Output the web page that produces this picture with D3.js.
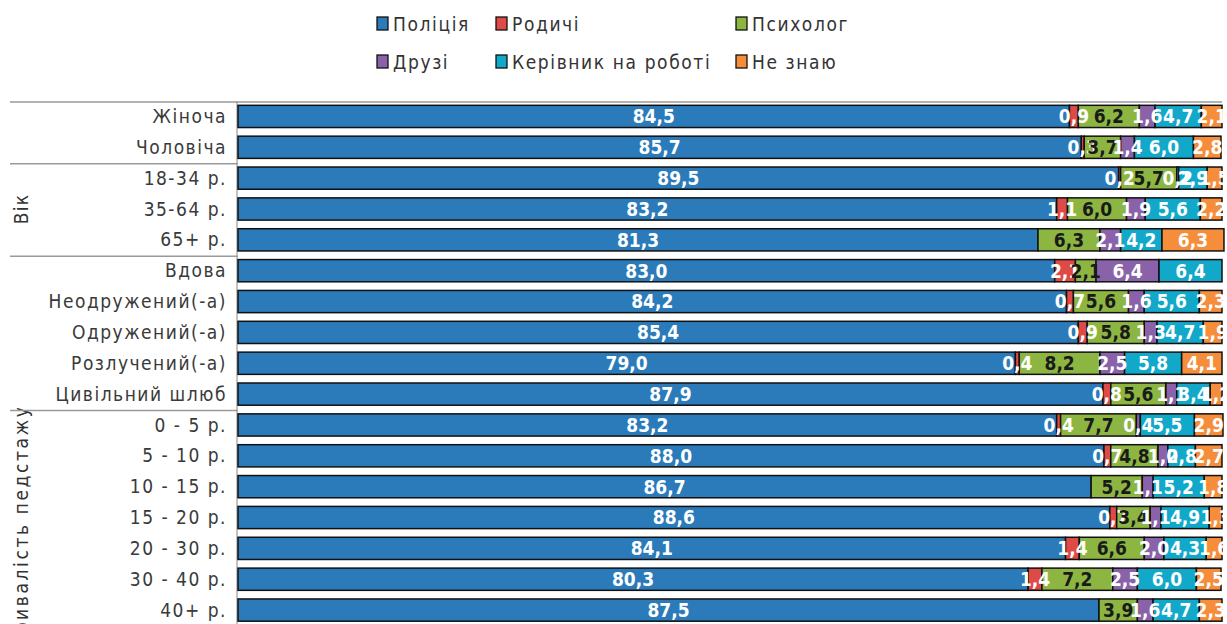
<!DOCTYPE html>
<html><head><meta charset="utf-8">
<script src="https://cdn.jsdelivr.net/npm/d3@7"></script>
<style>
html,body{margin:0;padding:0;background:#fff;overflow:hidden;}
svg{display:block;}
</style></head>
<body>
<script>
const categories = ["Жіноча","Чоловіча","18-34 р.","35-64 р.","65+ р.","Вдова","Неодружений(-а)","Одружений(-а)","Розлучений(-а)","Цивільний шлюб","0 - 5 р.","5 - 10 р.","10 - 15 р.","15 - 20 р.","20 - 30 р.","30 - 40 р.","40+ р."];
const seriesNames = ["Поліція","Родичі","Психолог","Друзі","Керівник на роботі","Не знаю"];
const police    = [84.5,85.7,89.5,83.2,81.3,83.0,84.2,85.4,79.0,87.9,83.2,88.0,86.7,88.6,84.1,80.3,87.5];
const relatives = [0.9,0.3,0.2,1.1,0,2.1,0.7,0.9,0.4,0.8,0.4,0.7,0,0.7,1.4,1.4,0];
const psych     = [6.2,3.7,5.7,6.0,6.3,2.1,5.6,5.8,8.2,5.6,7.7,4.8,5.2,3.4,6.6,7.2,3.9];
const friends   = [1.6,1.4,0.2,1.9,2.1,6.4,1.6,1.3,2.5,1.1,0.4,1.0,1.1,1.1,2.0,2.5,1.6];
const boss      = [4.7,6.0,2.9,5.6,4.2,6.4,5.6,4.7,5.8,3.4,5.5,2.8,5.2,4.9,4.3,6.0,4.7];
const dontKnow  = [2.1,2.8,1.5,2.2,6.3,0,2.3,1.9,4.1,1.2,2.9,2.7,1.8,1.3,1.6,2.5,2.3];
const groupLabels = ["","Вік","","Тривалість педстажу"];
const groupSizes  = [2,3,5,7];

const colors = ["#2b7bba","#de4a45","#8cb641","#8a62a9","#12a8c9","#f68d3a"];
const labelColors = ["#fff","#fff","#1a1a1a","#fff","#fff","#fff"];

const W = 1227, H = 624;
const FONT = "DejaVu Sans Condensed, DejaVu Sans";
const svg = d3.select("body").append("svg").attr("width",W).attr("height",H);

const seriesVals = [police,relatives,psych,friends,boss,dontKnow];
const rows = categories.map((c,i)=>{
  const o={cat:c}; seriesNames.forEach((s,j)=>o[s]=seriesVals[j][i]); return o;
});
const stack = d3.stack().keys(seriesNames)(rows);

const x = d3.scaleLinear().domain([0,100]).range([238,1222]);
const y = d3.scaleBand().domain(categories).range([101,625.5]).paddingInner(0.28).paddingOuter(0.14);
const step = y.step();
const y0 = 101;

// separators
const lineColor = "#9a9a9a";
svg.append("line").attr("x1",10).attr("x2",1222).attr("y1",y0+1).attr("y2",y0+1)
  .attr("stroke",lineColor).attr("stroke-width",1.5);
let acc=0;
const groupStarts=[];
groupSizes.forEach((n,i)=>{groupStarts.push(acc); acc+=n;});

// group labels
groupLabels.forEach((g,i)=>{
  if(!g) return;
  const cy = y0 + (groupStarts[i] + groupSizes[i]/2)*step + (i===3?8:0);
  svg.append("text").attr("transform",`translate(28,${cy}) rotate(-90)`)
    .attr("text-anchor","middle").attr("font-family",FONT)
    .attr("font-size",19).attr("letter-spacing",i===3?2.6:1.2).attr("fill","#333").text(g);
});

groupStarts.slice(1).forEach(s=>{
  svg.append("line").attr("x1",10).attr("x2",238).attr("y1",y0+s*step+1).attr("y2",y0+s*step+1)
    .attr("stroke",lineColor).attr("stroke-width",1.5);
});
svg.append("line").attr("x1",237).attr("x2",237).attr("y1",y0).attr("y2",H)
  .attr("stroke",lineColor).attr("stroke-width",1.2);

// category labels
const yAxis = d3.axisLeft(y).tickSize(0).tickPadding(0);
const ag = svg.append("g").attr("transform","translate(227,0)").call(yAxis);
ag.select(".domain").remove();
ag.selectAll("text").attr("font-family",FONT).attr("font-size",19)
  .attr("letter-spacing",1.5).attr("fill","#3a3a3a").attr("dy","0.35em");

// bars
const layers = svg.append("g").selectAll("g").data(stack).join("g")
  .attr("fill",(d,i)=>colors[i]);
layers.selectAll("rect").data(d=>d.filter(p=>p[1]-p[0]>0)).join("rect")
  .attr("x",d=>x(d[0])).attr("width",d=>x(d[1])-x(d[0]))
  .attr("y",d=>y(d.data.cat)).attr("height",y.bandwidth())
  .attr("stroke","#111").attr("stroke-width",1.5);

// value labels
const fmt = v => d3.format(".1f")(v).replace(".",",");
const lg = svg.append("g");
stack.forEach((layer,i)=>{
  lg.append("g").selectAll("text").data(layer.filter(p=>p[1]-p[0]>0)).join("text")
    .attr("x",d=>(x(d[0])+x(d[1]))/2).attr("y",d=>y(d.data.cat)+y.bandwidth()/2)
    .attr("dy","0.36em").attr("text-anchor","middle")
    .attr("font-family",FONT).attr("font-weight","bold")
    .attr("font-size",19).attr("fill",labelColors[i])
    .text(d=>fmt(d[1]-d[0]));
});

// legend
const legX = [377,496,736];
const legY = [24,62];
seriesNames.forEach((s,i)=>{
  const cx = legX[i%3], cy = legY[Math.floor(i/3)];
  svg.append("rect").attr("x",cx).attr("y",cy-7).attr("width",11).attr("height",13)
    .attr("fill",colors[i]).attr("stroke","#111").attr("stroke-width",1.3);
  svg.append("text").attr("x",cx+16).attr("y",cy).attr("dy","0.35em")
    .attr("font-family",FONT).attr("font-size",19)
    .attr("letter-spacing",1.6).attr("fill","#333").text(s);
});
</script>
</body></html>
